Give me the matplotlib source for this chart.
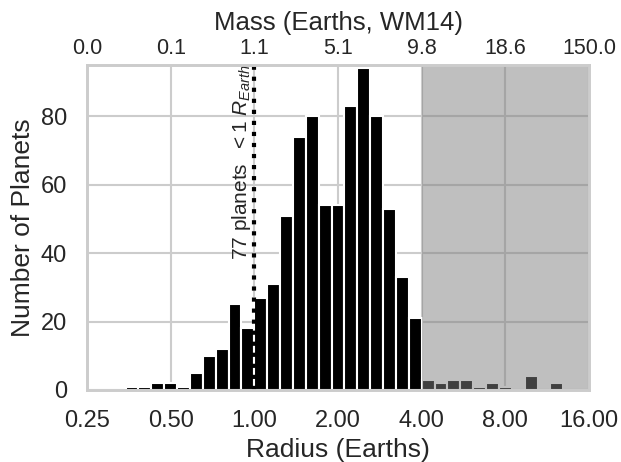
import numpy as np
import seaborn as sns
from matplotlib import pyplot as plt
from matplotlib import ticker

sns.set_style('whitegrid')
sns.set_context('talk')
plt.rcParams['font.family'] = ['Liberation Sans', 'DejaVu Sans']
plt.rcParams['mathtext.fontset'] = 'custom'
plt.rcParams['mathtext.rm'] = 'Liberation Sans'
plt.rcParams['mathtext.it'] = 'Liberation Sans:italic'

# radius histogram, 39 log bins from 0.25 to 16 Earth radii
r_min, r_max, n_bins = 0.25, 16.0, 39
counts = [0, 0, 0, 1, 1, 2, 2, 1, 5, 10, 12, 25, 18,
          27, 31, 51, 74, 80, 54, 54, 83, 94, 80, 53, 33, 21,
          3, 2, 3, 3, 1, 2, 1, 0, 4, 0, 2, 0, 0]

radius_ticks = [0.25, 0.5, 1.0, 2.0, 4.0, 8.0, 16.0]
mass_labels = ['0.0', '0.1', '1.1', '5.1', '9.8', '18.6', '150.0']
n_small = 77

edges = np.logspace(np.log10(r_min), np.log10(r_max), n_bins + 1)

fig = plt.figure(figsize=(6.21, 4.62), dpi=100)
ax = fig.add_axes([87/621, 1 - 390/462, 502/621, 325/462])

ax.bar(edges[:-1], counts, width=np.diff(edges), align='edge',
       color='black', edgecolor='white', linewidth=1.5)
ax.axvspan(4, 16, color='grey', alpha=0.5, lw=0)
ax.axvline(1.0, color='black', linestyle=':', lw=3)
ax.text(0.985, 38, r'%d planets  $< 1\ R_{Earth}$' % n_small, rotation=90,
        ha='right', va='bottom', fontsize=15)

ax.set_xscale('log')
ax.set_xlim(r_min, r_max)
ax.set_ylim(0, 95)
ax.xaxis.set_major_locator(ticker.FixedLocator(radius_ticks))
ax.xaxis.set_minor_locator(ticker.NullLocator())
ax.xaxis.set_major_formatter(ticker.FormatStrFormatter('%.2f'))
ax.set_yticks([0, 20, 40, 60, 80])
ax.tick_params(axis='x', length=0, pad=14.4, labelsize=17)
ax.tick_params(axis='y', length=0, pad=14.4, labelsize=17)
ax.set_xlabel('Radius (Earths)', fontsize=19, labelpad=4.5)
ax.set_ylabel('Number of Planets', fontsize=19)

ax2 = ax.twiny()
ax2.set_xscale('log')
ax2.set_xlim(r_min, r_max)
ax2.xaxis.set_major_locator(ticker.FixedLocator(radius_ticks))
ax2.xaxis.set_minor_locator(ticker.NullLocator())
ax2.set_xticklabels(mass_labels)
ax2.tick_params(length=0, pad=4, labelsize=15.5)
ax2.grid(False)
ax2.set_xlabel('Mass (Earths, WM14)', fontsize=18.5, labelpad=6)

fig.savefig('out.png', dpi=100)
